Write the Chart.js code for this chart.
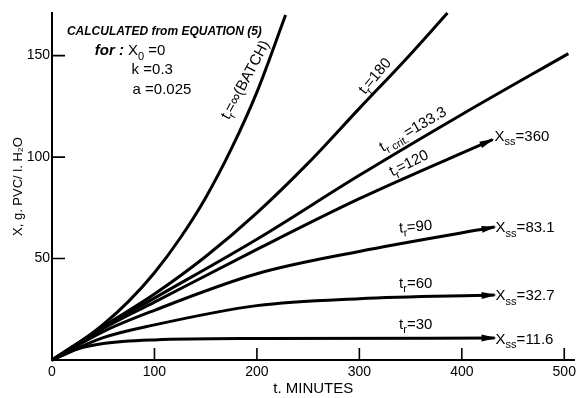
<!DOCTYPE html>
<html>
<head>
<meta charset="utf-8">
<script src="https://cdn.jsdelivr.net/npm/chart.js@4/dist/chart.umd.min.js"></script>
<style>
    html, body { margin: 0; padding: 0; background: #fff; }
    #wrap { width: 580px; height: 398px; }
</style>
</head>
<body>
<div id="wrap"><canvas id="chart" width="580" height="398"></canvas></div>
<script>
// t in minutes, X in g PVC / l H2O
const batchT = [0, 25, 50, 75, 100, 125, 150, 175, 200, 228]
const batchX = [0, 8, 17.5, 29, 43, 60, 80, 104, 132, 170]

const tr180T = [0, 50, 100, 150, 200, 250, 300, 345, 386]
const tr180X = [0, 16.5, 32.5, 51, 72.5, 97, 124, 148, 171]

const critT = [0, 50, 100, 200, 300, 400, 504]
const critX = [0, 16, 30.5, 59.5, 91, 121, 151]

const tr120T = [0, 50, 100, 200, 300, 430]
const tr120X = [0, 15.5, 28.5, 54.5, 79.5, 108.6]

const tr90T = [0, 50, 100, 200, 300, 432]
const tr90X = [0, 14, 24.5, 42.5, 53.5, 65.5]

const tr60T = [0, 50, 100, 200, 300, 432]
const tr60X = [0, 11, 17.3, 26.8, 30.2, 32]

const tr30T = [0, 25, 50, 100, 200, 432]
const tr30X = [0, 5.4, 8.1, 9.9, 10.6, 10.8]

const xTicks = [0, 100, 200, 300, 400, 500]
const yTicks = [50, 100, 150]

const family = '"Liberation Sans", Arial, sans-serif'

const curve = (t, x, arrow = false) => ({
    data: t.map((v, i) => ({ x: v, y: x[i] })),
    arrow,
    borderColor: '#000',
    borderWidth: 3,
    pointRadius: 0,
    cubicInterpolationMode: 'monotone',
    fill: false,
    clip: false
})

// text with subscripts: parts are [text, isSub, fontStyle]
const rich = (ctx, parts, x, y, align, size = 15) => {
    const fontOf = p => `${p[2] || ''} ${p[1] ? Math.round(size * 0.72) : size}px ${family}`
    let w = 0
    parts.forEach(p => { ctx.font = fontOf(p); w += ctx.measureText(p[0]).width })
    let cx = align === 'center' ? x - w / 2 : x
    parts.forEach(p => {
        ctx.font = fontOf(p)
        ctx.fillText(p[0], cx, p[1] ? y + size * 0.36 : y)
        cx += ctx.measureText(p[0]).width
    })
}

const notes = [
    { at: [189, 138], rot: -62, align: 'center', parts: [['t'], ['r', 1], ['=∞(BATCH)']] },
    { at: [315.5, 139.8], rot: -50, align: 'center', parts: [['t'], ['r', 1], ['=180']] },
    { at: [352.4, 113.5], rot: -30, align: 'center', parts: [['t'], ['r crit.', 1], ['=133.3']] },
    { at: [348.5, 96.8], rot: -26, align: 'center', parts: [['t'], ['r', 1], ['=120']] },
    { at: [355, 65.5], rot: -5, align: 'center', parts: [['t'], ['r', 1], ['=90']] },
    { at: [355, 37.7], rot: 0, align: 'center', parts: [['t'], ['r', 1], ['=60']] },
    { at: [355, 17.5], rot: 0, align: 'center', parts: [['t'], ['r', 1], ['=30']] },
    { at: [432, 110], rot: 0, align: 'left', parts: [['X'], ['ss', 1], ['=360']] },
    { at: [433, 64.9], rot: 0, align: 'left', parts: [['X'], ['ss', 1], ['=83.1']] },
    { at: [433, 31.5], rot: 0, align: 'left', parts: [['X'], ['ss', 1], ['=32.7']] },
    { at: [433, 9.95], rot: 0, align: 'left', parts: [['X'], ['ss', 1], ['=11.6']] },
    { at: [14.6, 161.8], rot: 0, align: 'left', size: 12, parts: [['CALCULATED from EQUATION (5)', 0, 'bold italic']] },
    { at: [41.7, 152.2], rot: 0, align: 'left', parts: [['for :', 0, 'bold italic'], [' X'], ['0', 1], [' =0']] },
    { at: [77.7, 143], rot: 0, align: 'left', parts: [['k =0.3']] },
    { at: [78.6, 133.2], rot: 0, align: 'left', parts: [['a =0.025']] }
]

const decorations = {
    id: 'decorations',
    afterDraw: chart => {
        const { ctx, scales: { x, y } } = chart
        ctx.save()
        ctx.strokeStyle = '#000'
        ctx.fillStyle = '#000'

        // tick marks pointing into the plot
        ctx.lineWidth = 1.6
        ctx.beginPath()
        xTicks.filter(v => v > 0).forEach(v => {
            const px = x.getPixelForValue(v)
            ctx.moveTo(px, y.bottom)
            ctx.lineTo(px, y.bottom - 12)
        })
        yTicks.forEach(v => {
            const py = y.getPixelForValue(v)
            ctx.moveTo(x.left, py)
            ctx.lineTo(x.left + 13, py)
        })
        ctx.stroke()

        // arrow heads at the steady-state ends
        chart.data.datasets.forEach((ds, i) => {
            if (!ds.arrow) return
            const pts = chart.getDatasetMeta(i).data
            const p = pts[pts.length - 1]
            const q = pts[pts.length - 2]
            const cx = p.cp1x ?? q.x
            const cy = p.cp1y ?? q.y
            const a = Math.atan2(p.y - cy, p.x - cx)
            ctx.save()
            ctx.translate(p.x, p.y)
            ctx.rotate(a)
            ctx.beginPath()
            ctx.moveTo(2, 0)
            ctx.lineTo(-13, -3.5)
            ctx.lineTo(-13, 3.5)
            ctx.closePath()
            ctx.fill()
            ctx.restore()
        })

        ctx.textBaseline = 'middle'
        notes.forEach(n => {
            ctx.save()
            ctx.translate(x.getPixelForValue(n.at[0]), y.getPixelForValue(n.at[1]))
            ctx.rotate(n.rot * Math.PI / 180)
            ctx.textAlign = 'left'
            rich(ctx, n.parts, 0, 0, n.align, n.size || 15)
            ctx.restore()
        })
        ctx.restore()
    }
}

Chart.defaults.font.family = family
Chart.defaults.color = '#000'

new Chart(document.getElementById('chart').getContext('2d'), {
    type: 'line',
    data: {
        datasets: [
            curve(batchT, batchX),
            curve(tr180T, tr180X),
            curve(critT, critX),
            curve(tr120T, tr120X, true),
            curve(tr90T, tr90X, true),
            curve(tr60T, tr60X, true),
            curve(tr30T, tr30X, true)
        ]
    },
    options: {
        responsive: false,
        devicePixelRatio: 1,
        animation: false,
        events: [],
        layout: { padding: { top: 13, right: 3, left: 0, bottom: 0 } },
        plugins: { legend: { display: false }, tooltip: { enabled: false } },
        scales: {
            x: {
                type: 'linear',
                min: 0,
                max: 510,
                afterBuildTicks: s => { s.ticks = xTicks.map(v => ({ value: v })) },
                afterFit: s => { s.height = 38 },
                grid: { display: false, drawTicks: false },
                border: { color: '#000', width: 2 },
                ticks: { color: '#000', font: { size: 14 }, padding: 4, maxRotation: 0 },
                title: { display: true, text: 't. MINUTES', color: '#000', font: { size: 15 }, padding: 0 }
            },
            y: {
                type: 'linear',
                min: 0,
                max: 171,
                afterBuildTicks: s => { s.ticks = yTicks.map(v => ({ value: v })) },
                afterFit: s => { s.width = 52 },
                grid: { display: false, drawTicks: false },
                border: { color: '#000', width: 2 },
                ticks: { color: '#000', font: { size: 14 }, padding: 2 },
                title: { display: true, text: 'X, g. PVC/ l. H₂O', color: '#000', font: { size: 13 }, padding: { top: 11 } }
            }
        }
    },
    plugins: [decorations]
})
</script>
</body>
</html>
